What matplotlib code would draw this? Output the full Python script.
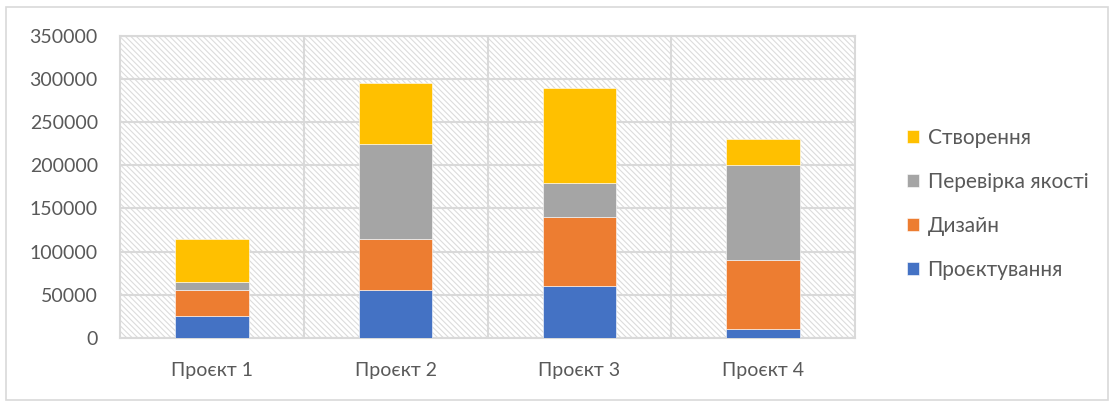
import matplotlib.pyplot as plt
import numpy as np
from matplotlib.patches import Rectangle

plt.rcParams['font.family'] = ['Lato', 'DejaVu Sans']
plt.rcParams['hatch.color'] = '#dcdcdc'
plt.rcParams['hatch.linewidth'] = 0.8

projects = ['Проєкт 1', 'Проєкт 2', 'Проєкт 3', 'Проєкт 4']
stages = ['Проєктування', 'Дизайн', 'Перевірка якості', 'Створення']
design_proj = [25000, 55000, 60000, 10000]
design = [30000, 60000, 80000, 80000]
qa = [10000, 110000, 40000, 110000]
build = [50000, 70000, 110000, 30000]
colors = ['#4472C4', '#ED7D31', '#A5A5A5', '#FFC000']

fig = plt.figure(figsize=(11.09, 4.01), dpi=100)
ax = fig.add_axes([120/1109, 63/401, 735/1109, 302.3/401])

x = np.arange(len(projects))
bottom = np.zeros(len(projects))
bars = []
for vals, c, name in zip([design_proj, design, qa, build], colors, stages):
    b = ax.bar(x, vals, 0.4, bottom=bottom, color=c, label=name,
               edgecolor='white', linewidth=0.4, zorder=3)
    bars.append(b)
    bottom += np.array(vals)

ax.set_xlim(-0.5, 3.5)
ax.set_ylim(0, 350000)
ax.set_yticks(np.arange(0, 350001, 50000))
ax.set_xticks(x)
ax.set_xticklabels(projects)

# hatched background
ax.add_patch(Rectangle((0, 0), 1, 1, transform=ax.transAxes, facecolor='white',
                       hatch='\\' * 6, edgecolor='#dcdcdc', linewidth=0, zorder=0))

grid_c = '#d9d9d9'
ax.grid(axis='y', color=grid_c, linewidth=1.5, zorder=1)
for xv in [0.5, 1.5, 2.5]:
    ax.axvline(xv, color=grid_c, linewidth=1.5, zorder=1)
ax.set_axisbelow(True)
for s in ax.spines.values():
    s.set_color(grid_c)
    s.set_linewidth(1.5)

ax.tick_params(length=0, labelsize=14, colors='#595959')
ax.tick_params(axis='x', pad=17)
ax.tick_params(axis='y', pad=16)

handles = bars[::-1]
labels = stages[::-1]
leg = fig.legend(handles, labels, loc='center left', bbox_to_anchor=(888/1109, 197/401),
                 frameon=False, fontsize=15, handlelength=0.6, handleheight=0.6,
                 handletextpad=0.4, labelspacing=1.15, labelcolor='#595959')

fig.patches.append(Rectangle((6/1109, 1/401), 1102/1109, 393/401, transform=fig.transFigure,
                             fill=False, edgecolor='#d9d9d9', linewidth=1.2))

fig.savefig('out.png', dpi=100)
